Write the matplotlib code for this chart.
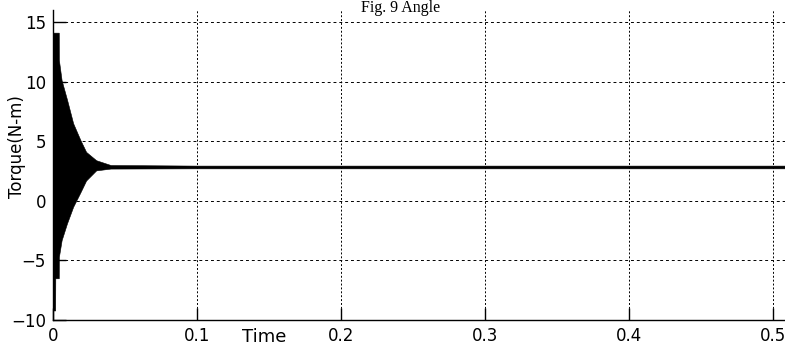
import numpy as np
import matplotlib
matplotlib.use("Agg")
import matplotlib.pyplot as plt

# envelope of the torque signal (time in s, torque in N-m)
t_env     = [0.0, 0.0015, 0.0016, 0.004, 0.0041, 0.006, 0.0097, 0.014,
             0.019, 0.023, 0.030, 0.040, 0.10, 0.20, 0.30, 0.40, 0.51]
upper_env = [14.1, 14.1, 14.1, 14.1, 11.8, 10.1, 8.5, 6.5,
             5.1, 4.1, 3.4, 3.0, 2.95, 2.95, 2.95, 2.95, 2.95]
lower_env = [-9.2, -9.2, -6.5, -6.5, -4.7, -3.3, -1.9, -0.5,
             0.7, 1.7, 2.55, 2.7, 2.72, 2.72, 2.72, 2.72, 2.72]

x_ticks = [0, 0.1, 0.2, 0.3, 0.4, 0.5]
x_labels = ["0", "0.1", "0.2", "0.3", "0.4", "0.5"]
y_ticks = [-10, -5, 0, 5, 10, 15]

W, H = 785, 345
fig = plt.figure(figsize=(W / 100, H / 100), dpi=100)
ax = fig.add_axes([53 / W, 1 - 320 / H, 1 - 53 / W, (320 - 10) / H])

ax.fill_between(t_env, lower_env, upper_env, color="black", lw=0.4,
                edgecolor="black")

ax.set_xlim(0, (W - 53) / 1440)
ax.set_ylim(-10, 16)
ax.set_xticks(x_ticks)
ax.set_xticklabels(x_labels)
ax.set_yticks(y_ticks)

for side in ["top", "right"]:
    ax.spines[side].set_visible(False)
for side in ["left", "bottom"]:
    ax.spines[side].set_linewidth(1.0)

ax.tick_params(direction="in", length=9, width=1.0, labelsize=12, pad=5)
for lbl in ax.get_xticklabels() + ax.get_yticklabels():
    lbl.set_family("DejaVu Sans")

ax.yaxis.grid(True, color="black", lw=0.7, linestyle=(0, (3, 3)))
ax.xaxis.grid(True, color="black", lw=0.7, linestyle=(0, (2, 2)))
ax.set_axisbelow(False)

ax.set_ylabel("Torque(N-m)", family="DejaVu Sans", fontsize=12,
              va="center")
ax.yaxis.set_label_coords(-36 / (W - 53), 0.56)

fig.text(264 / W, 3 / H, "Time", family="DejaVu Sans", fontsize=13,
         ha="center", va="baseline")
fig.text(401 / W, 1 - 12 / H, "Fig. 9 Angle", family="Liberation Serif",
         fontsize=11.5, ha="center", va="baseline")

fig.savefig("out.png", dpi=100)
plt.close(fig)
